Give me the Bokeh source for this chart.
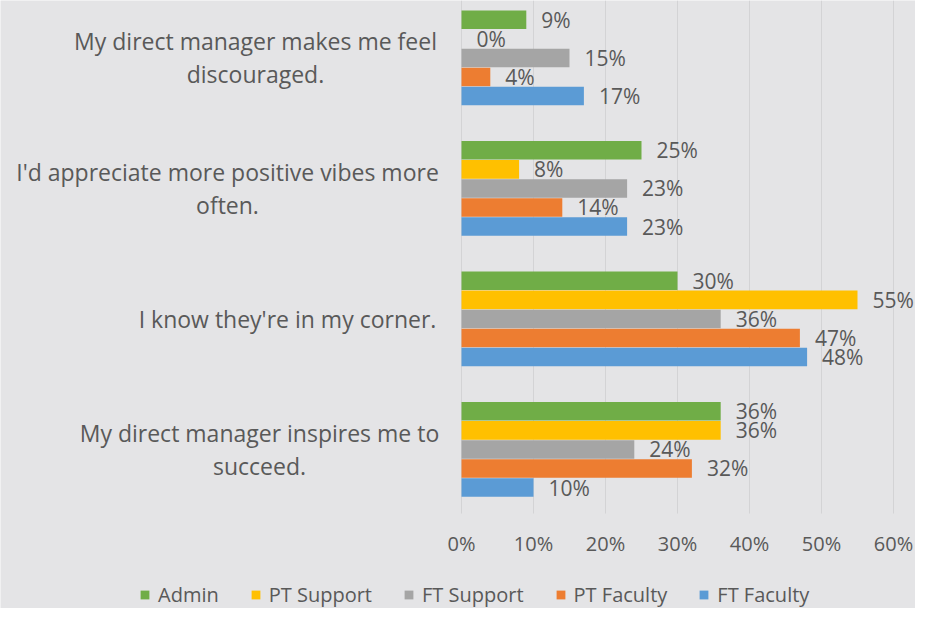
from bokeh.plotting import figure
from bokeh.models import (ColumnDataSource, Range1d, FixedTicker, NumeralTickFormatter,
                          Legend, LegendItem, LinearAxis)
from bokeh.core.properties import value
from bokeh.embed import file_html
from bokeh.resources import INLINE

# ---- data (top to bottom as in the chart) ----
categories = [
    "My direct manager makes me feel\ndiscouraged.",
    "I'd appreciate more positive vibes more\noften.",
    "I know they're in my corner.",
    "My direct manager inspires me to\nsucceed.",
]
series = ["Admin", "PT Support", "FT Support", "PT Faculty", "FT Faculty"]
admin = [0.09, 0.25, 0.30, 0.36]
pt_support = [0.00, 0.08, 0.55, 0.36]
ft_support = [0.15, 0.23, 0.36, 0.24]
pt_faculty = [0.04, 0.14, 0.47, 0.32]
ft_faculty = [0.17, 0.23, 0.48, 0.10]
x_ticks = [0.0, 0.1, 0.2, 0.3, 0.4, 0.5, 0.6]

values = [admin, pt_support, ft_support, pt_faculty, ft_faculty]
colors = ["#70AD47", "#FFC000", "#A5A5A5", "#ED7D31", "#5B9BD5"]

BG = "#e4e4e6"
TXT = "#595959"
FONT = "Open Sans"

W, H = 915, 608
PLOT_LEFT = 461        # px where 0% sits
PX_X = 720             # px per 1.0 (100%)
PX_Y = 130.5           # px per category
Y_TOP = 3.44
PLOT_BOTTOM_PX = 513
# label block centres, px offset from the 0% line
label_dx = [-206, -234, -174, -202]

n = len(categories)
ypos = [n - 1 - i for i in range(n)]  # top category highest
y_plot_bottom = Y_TOP - PLOT_BOTTOM_PX / PX_Y

p = figure(width=W, height=H, output_backend="svg", toolbar_location=None,
           x_range=Range1d(-PLOT_LEFT / PX_X, (W - PLOT_LEFT) / PX_X),
           y_range=Range1d(Y_TOP - H / PX_Y, Y_TOP),
           x_axis_type=None, y_axis_type=None,
           min_border_left=0, min_border_right=0, min_border_top=0, min_border_bottom=0)
p.background_fill_color = BG
p.border_fill_color = BG
p.outline_line_color = None
p.grid.visible = False

# vertical gridlines, limited to the plot area
p.segment(x0=x_ticks, x1=x_ticks, y0=y_plot_bottom, y1=Y_TOP,
          line_color="#d3d3d5", line_width=1)

pitch = 0.146
renderers = []
for j, (name, vals, col) in enumerate(zip(series, values, colors)):
    off = (2 - j) * pitch
    src = ColumnDataSource(dict(
        y=[y + off for y in ypos],
        v=vals,
        lab=[f"{round(v * 100):d}%" for v in vals],
    ))
    r = p.hbar(y="y", left=0, right="v", height=0.142, source=src,
               fill_color=col, line_color=None)
    p.text(x="v", y="y", text="lab", source=src, x_offset=15,
           text_baseline="middle", text_align="left", text_color=TXT,
           text_font=value(FONT), text_font_size="21px")
    renderers.append((name, r))

# category labels: block right-aligned near the axis, lines centred
csrc = ColumnDataSource(dict(y=ypos, text=categories, dx=label_dx))
p.text(x=0, y="y", text="text", x_offset="dx", source=csrc,
       text_align="center", text_baseline="middle", text_color=TXT,
       text_font=value(FONT), text_font_size="23px", text_line_height=1.03)

# x axis drawn at the bottom of the plot area
xa = LinearAxis(ticker=FixedTicker(ticks=x_ticks),
                formatter=NumeralTickFormatter(format="0%"),
                fixed_location=y_plot_bottom)
xa.axis_line_color = None
xa.major_tick_line_color = None
xa.minor_tick_line_color = None
xa.major_label_text_font = FONT
xa.major_label_text_font_size = "20px"
xa.major_label_text_color = TXT
xa.major_label_standoff = 10
p.add_layout(xa, "below")

legend = Legend(items=[LegendItem(label=nm, renderers=[r]) for nm, r in renderers],
                orientation="horizontal", location=(139, 0))
legend.background_fill_alpha = 0
legend.border_line_color = None
legend.label_text_font = FONT
legend.label_text_font_size = "20px"
legend.label_text_color = TXT
legend.glyph_width = 11
legend.glyph_height = 11
legend.label_standoff = 8
legend.spacing = 31
legend.margin = 0
legend.padding = 0
p.add_layout(legend, "center")

open("out.html", "w").write(file_html(p, INLINE))
